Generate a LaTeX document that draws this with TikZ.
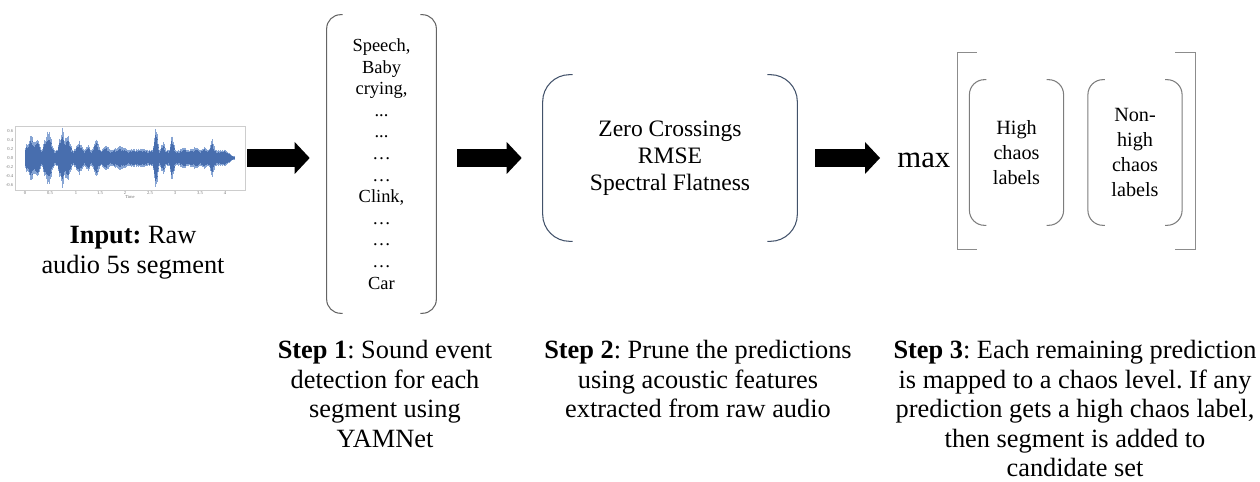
\documentclass[tikz,border=0pt]{standalone}
\usepackage{fontspec}
\setmainfont{Liberation Serif}
\frenchspacing
\usepackage{tikz}
\usetikzlibrary{calc,positioning,arrows.meta}
\definecolor{wavedark}{RGB}{72,110,174}
\definecolor{wavelight}{RGB}{135,165,212}
\definecolor{framegray}{RGB}{205,205,205}
\definecolor{listgray}{RGB}{100,100,100}
\definecolor{featblue}{RGB}{66,82,106}
\definecolor{chaosgray}{RGB}{125,125,125}
\definecolor{bracketgray}{RGB}{140,140,140}
% one burst of the envelope: centre, height, half width
\newcommand{\bump}[3]{#2*max(0,1-abs(\wx-#1)/#3)}
\tikzset{
    blockarrow/.style={
        draw=black, line width=0.36cm,
        -{Triangle[length=0.3cm,width=0.64cm,line width=0pt]}
    },
    listparen/.style={draw=listgray, line width=0.6pt, rounded corners=0.28cm},
    featparen/.style={draw=featblue, line width=0.6pt, rounded corners=0.54cm},
    chaosparen/.style={draw=chaosgray, line width=0.6pt, rounded corners=0.3cm},
    sqbracket/.style={draw=bracketgray, line width=0.6pt},
    caption/.style={
        align=center, inner sep=0,
        font={\fontsize{15pt}{16.8pt}\selectfont}
    },
    listbox/.style={
        align=center, inner sep=0,
        minimum width=2.18cm, minimum height=5.96cm,
        font={\fontsize{10.5pt}{12.3pt}\selectfont}
    },
    featbox/.style={
        align=center, inner sep=0,
        minimum width=5.08cm, minimum height=3.32cm,
        font={\fontsize{13.4pt}{15.4pt}\selectfont}
    },
    chaosbox/.style={
        align=center, inner sep=0,
        minimum width=1.87cm, minimum height=2.9cm,
        font={\fontsize{11.5pt}{14.3pt}\selectfont}
    },
    ticklabel/.style={inner sep=0, text=black!55, font={\fontsize{2.6pt}{3pt}\selectfont}},
}

\begin{document}
\begin{tikzpicture}[x=0.02cm, y=-0.02cm]
    \useasboundingbox (0,0) rectangle (1260,482);

    % input waveform
    \node (wave) [draw=framegray, line width=0.5pt, minimum width=4.6cm, minimum height=1.28cm, inner sep=0] at (130,158) {};
    \pgfmathsetseed{17}
    \foreach \wx in {25,25.5,...,234}{
        \pgfmathsetmacro\wamp{1.3*(6.5*min(1,max(0.2,(235-\wx)/10))
            + \bump{31}{12}{7} + \bump{38}{8}{4} + \bump{48}{17}{6} + \bump{62}{17}{5}
            + \bump{68}{12}{4} + \bump{79}{7}{5} + \bump{88}{4}{3} + \bump{96}{10}{4}
            + \bump{106}{4}{4} + \bump{120}{3}{8} + \bump{138}{1}{9} + \bump{156}{19}{3}
            + \bump{163}{7}{3} + \bump{172}{12}{3} + \bump{184}{2}{5} + \bump{195}{2}{6}
            + \bump{205}{2}{4} + \bump{212}{10}{3} + \bump{223}{0}{4})*(0.75+0.25*rnd)}
        \draw[wavelight, line width=0.55pt] (\wx,158-\wamp) -- (\wx,158+\wamp);
        \draw[wavedark, line width=0.55pt] (\wx,158-0.8*\wamp) -- (\wx,158+0.8*\wamp);
    }
    \foreach \ty/\tl in {131/0.6,140/0.4,149/0.2,158/0.0,167/-0.2,176/-0.4,185/-0.6}
        \node[ticklabel, anchor=east] at (13.5,\ty) {\tl};
    \foreach \tx/\tl in {25/0,50/0.5,76/1,100/1.5,125/2,150/2.5,175/3,200/3.5,225/4}
        \node[ticklabel, anchor=north] at (\tx,191.5) {\tl};
    \node[ticklabel, anchor=north] at (130,195) {Time};
    \node (incap) [caption, anchor=north] at (133,226) {\textbf{Input:} Raw\\audio 5s segment};

    % step 1
    \node (events) [listbox] at (381.5,164) {Speech,\\Baby\\crying,\\...\\...\\…\\…\\Clink,\\…\\…\\…\\Car};
    \draw[listparen] ([xshift=0.32cm]events.north west) -- (events.north west) -- (events.south west) -- ([xshift=0.32cm]events.south west);
    \draw[listparen] ([xshift=-0.32cm]events.north east) -- (events.north east) -- (events.south east) -- ([xshift=-0.32cm]events.south east);
    \node (cap1) [caption, anchor=north] at (385,340) {\textbf{Step 1}: Sound event\\detection for each\\segment using\\YAMNet};

    % step 2
    \node (feat) [featbox] at (670,158) {Zero Crossings\\RMSE\\Spectral Flatness};
    \draw[featparen] ([xshift=0.6cm]feat.north west) -- (feat.north west) -- (feat.south west) -- ([xshift=0.6cm]feat.south west);
    \draw[featparen] ([xshift=-0.6cm]feat.north east) -- (feat.north east) -- (feat.south east) -- ([xshift=-0.6cm]feat.south east);
    \node (cap2) [caption, anchor=north] at (698,340) {\textbf{Step 2}: Prune the predictions\\using acoustic features\\extracted from raw audio};

    % step 3
    \node (maxop) [anchor=west, inner sep=0, font={\fontsize{17.5pt}{20pt}\selectfont}] at (897,160) {max};
    \node (high) [chaosbox] at (1016.5,152.5) {High\\chaos\\labels};
    \node (nonhigh) [chaosbox] at (1135,152.5) {Non-\\high\\chaos\\labels};
    \foreach \n in {high,nonhigh}{
        \draw[chaosparen] ([xshift=0.34cm]\n.north west) -- (\n.north west) -- (\n.south west) -- ([xshift=0.34cm]\n.south west);
        \draw[chaosparen] ([xshift=-0.34cm]\n.north east) -- (\n.north east) -- (\n.south east) -- ([xshift=-0.34cm]\n.south east);
    }
    \node (chaosset) [minimum width=4.74cm, minimum height=3.94cm, inner sep=0] at (1076.5,151) {};
    \draw[sqbracket] ([xshift=0.38cm]chaosset.north west) -- (chaosset.north west) -- (chaosset.south west) -- ([xshift=0.38cm]chaosset.south west);
    \draw[sqbracket] ([xshift=-0.4cm]chaosset.north east) -- (chaosset.north east) -- (chaosset.south east) -- ([xshift=-0.4cm]chaosset.south east);
    \node (cap3) [caption, anchor=north] at (1075,340) {\textbf{Step 3}: Each remaining prediction\\is mapped to a chaos level. If any\\prediction gets a high chaos label,\\then segment is added to\\candidate set};

    % block arrows between the steps
    \draw[blockarrow, shorten <=0.04cm, shorten >=0.34cm] (wave.east) -- (wave.east -| events.west);
    \draw[blockarrow, shorten <=0.42cm, shorten >=0.42cm] (events.east |- feat.west) -- (feat.west);
    \draw[blockarrow, shorten <=0.36cm, shorten >=0.34cm] (feat.east) -- (feat.east -| maxop.west);
\end{tikzpicture}
\end{document}
